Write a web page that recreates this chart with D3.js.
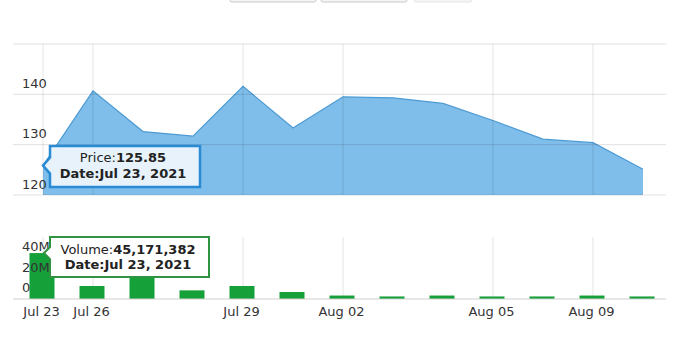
<!DOCTYPE html>
<html>
<head>
<meta charset="utf-8">
<script src="https://cdn.jsdelivr.net/npm/d3@7"></script>
<style>
  html, body { margin: 0; padding: 0; background: #fff; }
  svg { display: block; font-family: "DejaVu Sans", Verdana, sans-serif; }
</style>
</head>
<body>
<svg id="chart" width="680" height="338"></svg>
<script>
const dates = ["Jul 23","Jul 26","Jul 27","Jul 28","Jul 29","Jul 30","Aug 02","Aug 03","Aug 04","Aug 05","Aug 06","Aug 09","Aug 10"];
const prices = [125.85, 140.7, 132.6, 131.7, 141.6, 133.3, 139.5, 139.3, 138.2, 134.8, 131.1, 130.4, 125.1];
const volumes = [45171382, 12800000, 25000000, 8500000, 12800000, 6900000, 3400000, 2500000, 3400000, 2500000, 2500000, 3400000, 2500000];
const xTickLabels = ["Jul 23","Jul 26","Jul 29","Aug 02","Aug 05","Aug 09"];
const priceTicks = [120, 130, 140, 150];
const priceTickLabels = ["120","130","140"];
const volumeTicks = [0, 20000000, 40000000];
const volumeTickLabels = ["0","20M","40M"];
const tipIndex = 0;
const tipDateLabel = "Jul 23, 2021";

const svg = d3.select("#chart");
const left = 13, right = 666;

const x = d3.scalePoint().domain(dates).range([43, 643]);
const yP = d3.scaleLinear().domain([120, 150]).range([195, 44]);
const yV = d3.scaleLinear().domain([0, 60000000]).range([299, 238]);

// top buttons (partially visible)
const btns = [[230, 316], [321, 407], [414, 472]];
svg.selectAll("rect.btn").data(btns).enter().append("rect")
  .attr("x", d => d[0]).attr("y", -12).attr("width", d => d[1] - d[0]).attr("height", 14)
  .attr("rx", 2).attr("fill", "#f5f5f5").attr("stroke", (d, i) => i < 2 ? "#c8c8c8" : "#e6e6e6");

// price area
const area = d3.area().x((d, i) => x(dates[i])).y0(yP(120)).y1(d => yP(d));
const line = d3.line().x((d, i) => x(dates[i])).y(d => yP(d));
svg.append("path").datum(prices).attr("d", area).attr("fill", "#7fbdea");
svg.append("path").datum(prices).attr("d", line).attr("fill", "none").attr("stroke", "#4d9bd3").attr("stroke-width", 1.2);

// price grid
svg.append("g").selectAll("line").data(priceTicks).enter().append("line")
  .attr("x1", left).attr("x2", right).attr("y1", d => yP(d)).attr("y2", d => yP(d))
  .attr("stroke", "rgba(0,0,0,0.12)").attr("stroke-width", 1);
svg.append("g").selectAll("line").data(xTickLabels).enter().append("line")
  .attr("x1", d => x(d)).attr("x2", d => x(d)).attr("y1", yP(150)).attr("y2", yP(120))
  .attr("stroke", "rgba(0,0,0,0.10)").attr("stroke-width", 1);

// price tick labels
svg.append("g").selectAll("text").data(priceTickLabels).enter().append("text")
  .attr("x", 22).attr("y", d => yP(+d) - 6.5)
  .attr("font-size", 13).attr("fill", "#333").text(d => d);

// volume grid
svg.append("g").selectAll("line").data(xTickLabels).enter().append("line")
  .attr("x1", d => x(d)).attr("x2", d => x(d)).attr("y1", 237).attr("y2", yV(0))
  .attr("stroke", "rgba(0,0,0,0.10)").attr("stroke-width", 1);

// volume bars
svg.append("g").selectAll("rect").data(volumes).enter().append("rect")
  .attr("x", (d, i) => x(dates[i]) - 13.5).attr("width", 25)
  .attr("y", d => yV(d)).attr("height", d => yV(0) - yV(d))
  .attr("fill", "#16a03a");

svg.append("line").attr("x1", left).attr("x2", right).attr("y1", yV(0)).attr("y2", yV(0))
  .attr("stroke", "#cfcfcf");

// volume tick labels
svg.append("g").selectAll("text").data(volumeTicks).enter().append("text")
  .attr("x", 22).attr("y", d => yV(d) - 7)
  .attr("font-size", 13).attr("fill", "#333").text((d, i) => volumeTickLabels[i]);

// x axis labels
svg.append("g").selectAll("text").data(xTickLabels).enter().append("text")
  .attr("x", d => x(d) - 1.5).attr("y", 316).attr("text-anchor", "middle")
  .attr("font-size", 13).attr("fill", "#333").text(d => d);

// price tooltip
const px = x(dates[tipIndex]), py = yP(prices[tipIndex]);
svg.append("path")
  .attr("d", `M${px + 7},146 H200 V187 H${px + 7} V${py + 8} L${px},${py} L${px + 7},${py - 8} Z`)
  .attr("fill", "#e7f2fb").attr("stroke", "#2a8bd5").attr("stroke-width", 2.5);
const t1 = svg.append("text").attr("x", 123).attr("y", 162).attr("text-anchor", "middle").attr("font-size", 13).attr("fill", "#222");
t1.append("tspan").text("Price:");
t1.append("tspan").attr("font-weight", "bold").text(prices[tipIndex].toFixed(2));
const t2 = svg.append("text").attr("x", 123).attr("y", 178).attr("text-anchor", "middle").attr("font-size", 13).attr("font-weight", "bold").attr("fill", "#222");
t2.text("Date:" + tipDateLabel);

// volume tooltip
const vy = yV(volumes[tipIndex]);
svg.append("path")
  .attr("d", `M${px + 7},237 H209 V277 H${px + 7} V${vy + 6} L${px + 1},${vy} L${px + 7},${vy - 6} Z`)
  .attr("fill", "#ffffff").attr("stroke", "#2e9442").attr("stroke-width", 2);
const t3 = svg.append("text").attr("x", 128).attr("y", 254).attr("text-anchor", "middle").attr("font-size", 13).attr("fill", "#222");
t3.append("tspan").text("Volume:");
t3.append("tspan").attr("font-weight", "bold").text(d3.format(",")(volumes[tipIndex]));
const t4 = svg.append("text").attr("x", 128).attr("y", 269).attr("text-anchor", "middle").attr("font-size", 13).attr("font-weight", "bold").attr("fill", "#222");
t4.text("Date:" + tipDateLabel);
</script>
</body>
</html>
